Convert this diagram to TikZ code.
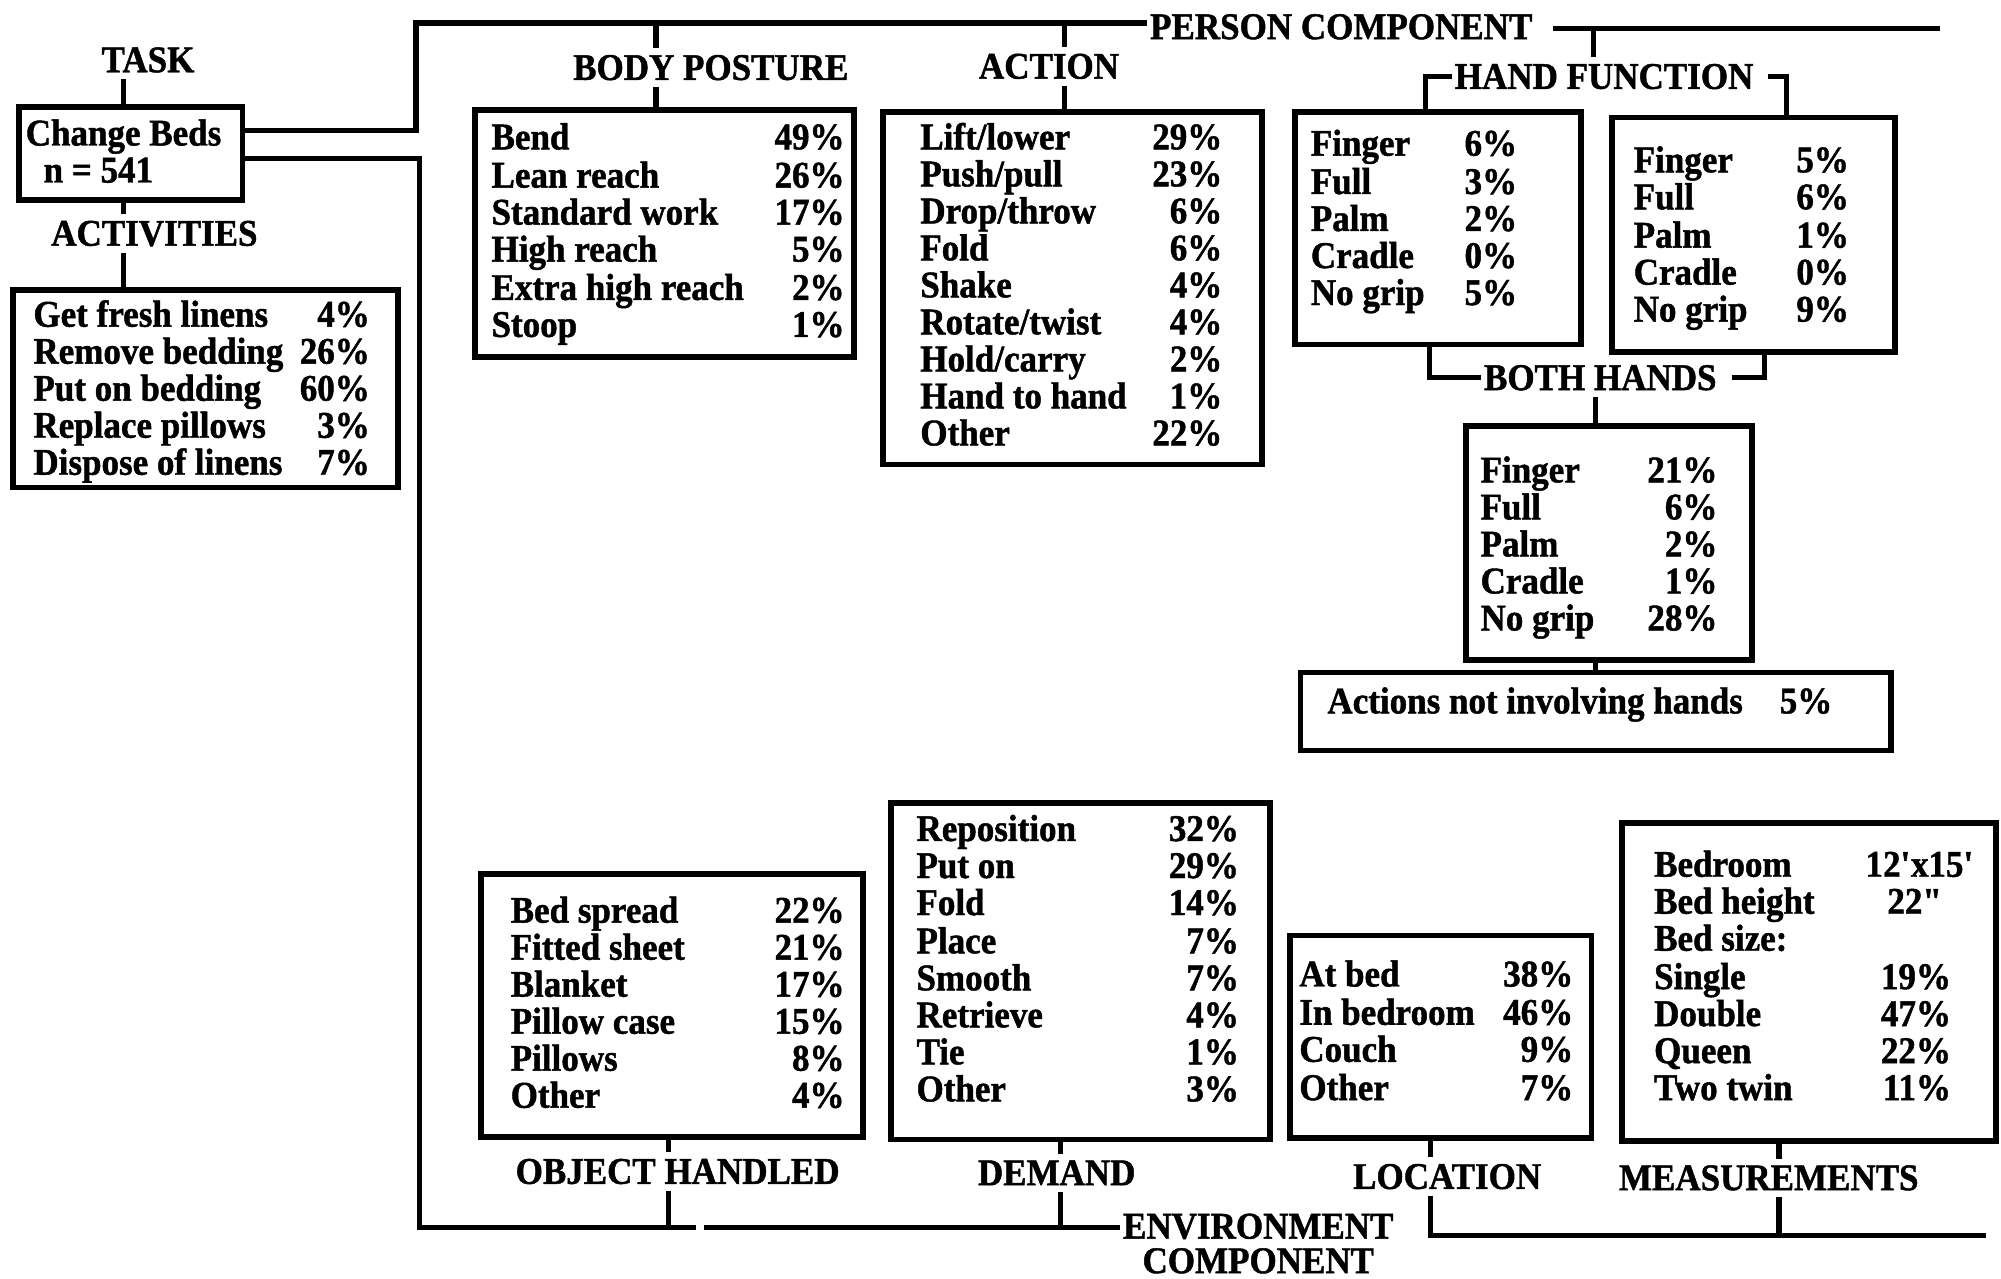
\documentclass[tikz,border=0pt]{standalone}
\usepackage{fontspec}
\setmainfont{Liberation Serif}[FakeStretch=0.93, BoldFeatures={FakeBold=1.2}]
\usetikzlibrary{fit}
\newcommand\rowfont{\fontsize{29.5}{29.5}\selectfont\bfseries}
\tikzset{
  boxst/.style={draw, line width=4.5pt, inner sep=0pt},
  lab/.style={font=\rowfont, inner xsep=2pt, inner ysep=5pt},
  rowl/.style={anchor=base west, inner sep=0pt, font=\rowfont},
  rowr/.style={anchor=base east, inner sep=0pt, font=\rowfont},
  conn/.style={line width=4pt},
}
% #1 name prefix, #2 left x, #3 right x, #4 list y/label/value
\newcommand\rowlist[4]{%
  \foreach \yy/\ll/\vv [count=\i] in {#4} {
    \node[rowl] (#1l\i) at (#2,\yy+10) {\ll};
    \node[rowr] (#1r\i) at (#3,\yy+10) {\vv};
  }}
\begin{document}
\begin{tikzpicture}[x=1pt,y=-1pt]
\useasboundingbox (0,0) rectangle (1568,1002);

% ---------- labels ----------
\node[lab] (task)   at (116,47)  {TASK};
\node[lab] (activ)  at (121,183) {ACTIVITIES};
\node[lab] (person) at (1051,21) {PERSON COMPONENT};
\node[lab] (bodyp)  at (557,53)  {BODY POSTURE};
\node[lab] (action) at (822,52)  {ACTION};
\node[lab] (handf)  at (1257,60) {HAND FUNCTION};
\node[lab] (both)   at (1254,296){BOTH HANDS};
\node[lab] (objh)   at (531,918) {OBJECT HANDLED};
\node[lab] (demand) at (828,919) {DEMAND};
\node[lab] (loc)    at (1134,922){LOCATION};
\node[lab] (meas)   at (1386,923){MEASUREMENTS};
\node[lab] (env1)   at (986,961) {ENVIRONMENT};
\node[lab, inner ysep=0.5pt] (env2) at (986,988) {COMPONENT};

% ---------- boxes ----------
\node[boxst, fit={(15,84) (190,157)}]    (cb)  {};
\node[boxst, fit={(10,227) (312,382)}]   (actb){};
\node[boxst, fit={(372,86) (669,280)}]   (bpb) {};
\node[boxst, fit={(692,88) (989,364)}]   (acb) {};
\node[boxst, fit={(1015,88) (1239,270)}] (hb1) {};
\node[boxst, fit={(1263,92) (1485,276)}] (hb2) {};
\node[boxst, fit={(1149,334) (1373,517)}](hb3) {};
\node[boxst, fit={(1019,527) (1482,588)}](hb4) {};
\node[boxst, fit={(377,685) (676,891)}]  (ob)  {};
\node[boxst, fit={(698,629) (995,893)}]  (db)  {};
\node[boxst, fit={(1011,733) (1247,892)}](lb)  {};
\node[boxst, fit={(1271,645) (1564,894)}](mb)  {};

% ---------- box texts ----------
\node[rowl] (cbt1) at (20,114) {Change Beds};
\node[rowl] (cbt2) at (34,143) {n = 541};

\rowlist{ac}{26}{290}{246/Get fresh linens/4\%, 275/Remove bedding/26\%,
  304/Put on bedding/60\%, 333/Replace pillows/3\%, 362/Dispose of linens/7\%}

\rowlist{bp}{385}{662}{107/Bend/49\%, 137/Lean reach/26\%, 166/Standard work/17\%,
  195/High reach/5\%, 225/Extra high reach/2\%, 254/Stoop/1\%}

\rowlist{an}{721}{958}{107/{Lift/lower}/29\%, 136/{Push/pull}/23\%, 165/{Drop/throw}/6\%,
  194/Fold/6\%, 223/Shake/4\%, 252/{Rotate/twist}/4\%, 281/{Hold/carry}/2\%,
  310/Hand to hand/1\%, 339/Other/22\%}

\rowlist{ha}{1027}{1189}{112/Finger/6\%, 142/Full/3\%, 171/Palm/2\%, 200/Cradle/0\%, 229/No grip/5\%}
\rowlist{hc}{1280}{1449}{125/Finger/5\%, 154/Full/6\%, 184/Palm/1\%, 213/Cradle/0\%, 242/No grip/9\%}
\rowlist{hd}{1160}{1346}{368/Finger/21\%, 397/Full/6\%, 426/Palm/2\%, 455/Cradle/1\%, 484/No grip/28\%}

\node[rowl] (nh1) at (1040,559) {Actions not involving hands};
\node[rowr] (nh2) at (1436,559) {5\%};

\rowlist{ob}{400}{662}{713/Bed spread/22\%, 742/Fitted sheet/21\%, 771/Blanket/17\%,
  800/Pillow case/15\%, 829/Pillows/8\%, 858/Other/4\%}

\rowlist{de}{718}{971}{649/Reposition/32\%, 678/Put on/29\%, 707/Fold/14\%, 737/Place/7\%,
  766/Smooth/7\%, 795/Retrieve/4\%, 824/Tie/1\%, 853/Other/3\%}

\rowlist{lo}{1018}{1233}{763/At bed/38\%, 793/In bedroom/46\%, 822/Couch/9\%, 852/Other/7\%}

\node[rowl] (me1l) at (1296,687) {Bedroom};
\node[rowr] (me1r) at (1547,687) {12\textquotesingle x15\textquotesingle};
\node[rowl] (me2l) at (1296,716) {Bed height};
\node[rowr] (me2r) at (1523,716) {22\textquotedbl};
\node[rowl] (me3l) at (1296,745) {Bed size:};
\rowlist{mm}{1296}{1529}{765/Single/19\%, 794/Double/47\%, 823/Queen/22\%, 852/Two twin/11\%}

% ---------- helper coordinates ----------
\coordinate (xA)  at (97,0);
\coordinate (yU)  at (0,102);
\coordinate (jU)  at (326,18);
\coordinate (pEnd) at (1520,22);
\coordinate (xB)  at (514,0);
\coordinate (xC)  at (834,0);
\coordinate (xH)  at (1249,0);
\coordinate (xH1) at (1117,0);
\coordinate (xH2) at (1400,0);
\coordinate (xBH1) at (1120,0);
\coordinate (xBH2) at (1383,0);
\coordinate (xBT) at (1250,0);
\coordinate (yL)  at (0,124);
\coordinate (jL)  at (329,962);
\coordinate (gap1) at (545,962);
\coordinate (gap2) at (552,962);
\coordinate (xO)  at (524,0);
\coordinate (xD)  at (831,0);
\coordinate (xLo) at (1121,0);
\coordinate (eEnd) at (1556,968);
\coordinate (xM)  at (1394,0);

% ---------- connectors ----------
\draw[conn] (task.south -| xA) -- (cb.north -| xA);
\draw[conn] (cb.south -| xA) -- (activ.north -| xA);
\draw[conn] (activ.south -| xA) -- (actb.north -| xA);

\draw[conn] (cb.east |- yU) -| (jU) -- (jU -| person.west);
\draw[conn] ([xshift=14pt]person.east |- pEnd) -- (pEnd);
\draw[conn] (jU -| xB) -- (bodyp.north -| xB);
\draw[conn] (bodyp.south -| xB) -- (bpb.north -| xB);
\draw[conn] (jU -| xC) -- (action.north -| xC);
\draw[conn] (action.south -| xC) -- (acb.north -| xC);

\draw[conn] (pEnd -| xH) -- (handf.north -| xH);
\draw[conn] (handf.west) -| (hb1.north -| xH1);
\draw[conn] ([xshift=9pt]handf.east) -| (hb2.north -| xH2);
\draw[conn] (hb1.south -| xBH1) |- (both.west);
\draw[conn] (hb2.south -| xBH2) |- ([xshift=10pt]both.east);
\draw[conn] (both.south -| xBT) -- (hb3.north -| xBT);
\draw[conn] (hb3.south -| xBT) -- (hb4.north -| xBT);

\draw[conn] (cb.east |- yL) -| (jL) -- (gap1);
\draw[conn] (gap2) -- (gap2 -| env1.west);
\draw[conn] (ob.south -| xO) -- (objh.north -| xO);
\draw[conn] (objh.south -| xO) -- (jL -| xO);
\draw[conn] (db.south -| xD) -- (demand.north -| xD);
\draw[conn] (demand.south -| xD) -- (jL -| xD);
\draw[conn] (lb.south -| xLo) -- (loc.north -| xLo);
\draw[conn] (loc.south -| xLo) |- (eEnd);
\draw[conn] (mb.south -| xM) -- (meas.north -| xM);
\draw[conn] (meas.south -| xM) -- (eEnd -| xM);
\end{tikzpicture}
\end{document}
